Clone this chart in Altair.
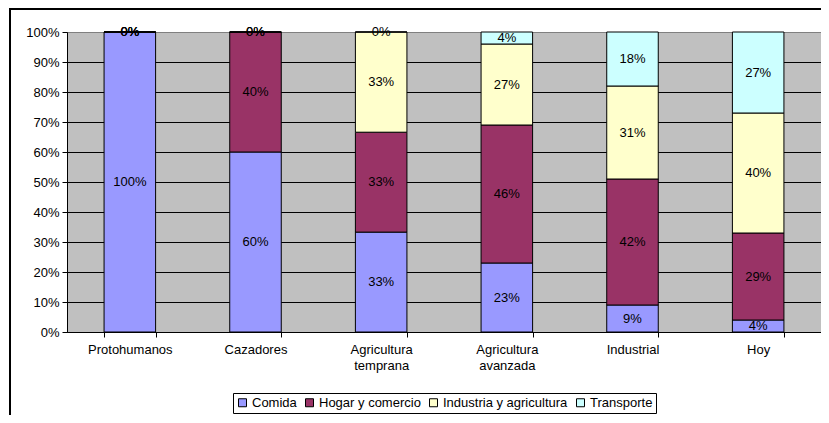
import altair as alt
import pandas as pd

categories = ["Protohumanos", "Cazadores", "Agricultura temprana",
              "Agricultura avanzada", "Industrial", "Hoy"]
series = ["Comida", "Hogar y comercio", "Industria y agricultura", "Transporte"]
comida = [100, 60, 33.3, 23, 9, 4]
hogar = [0, 40, 33.3, 46, 42, 29]
industria = [0, 0, 33.4, 27, 31, 40]
transporte = [0, 0, 0, 4, 18, 27]
colors = ["#9999FF", "#993366", "#FFFFCC", "#CCFFFF"]
y_ticks = [0, 10, 20, 30, 40, 50, 60, 70, 80, 90, 100]

rows = []
for si, (name, vals) in enumerate(zip(series, [comida, hogar, industria, transporte])):
    for c, v in zip(categories, vals):
        rows.append({"cat": c, "serie": name, "idx": si, "value": v})
df = pd.DataFrame(rows)

FONT = "Liberation Sans"

x_axis = alt.Axis(labelAngle=0, labelExpr="split(datum.label, ' ')",
                  tickBand="extent", tickSize=5, tickColor="black",
                  domainColor="black", labelFontSize=13, labelColor="black",
                  labelPadding=6, labelLineHeight=16, labelLimit=300,
                  grid=False, title=None)
x_scale = alt.Scale(paddingInner=0.59, paddingOuter=0.295)

y_axis = alt.Axis(values=y_ticks, tickCount=20, labelOverlap=False,
                  labelExpr="datum.value + '%'", title=None,
                  grid=True,
                  gridColor=alt.condition("datum.value >= 100", alt.value("#808080"), alt.value("black")),
                  gridWidth=1, gridOpacity=1,
                  tickSize=5, tickColor="black", domainColor="black",
                  labelFontSize=13, labelColor="black", labelPadding=3)
y_scale = alt.Scale(domain=[0, 100], nice=False, zero=True)

base = alt.Chart(df)

bars = base.mark_bar(stroke="black", strokeWidth=1).encode(
    x=alt.X("cat:N", sort=categories, scale=x_scale, axis=x_axis),
    y=alt.Y("value:Q", stack=True, scale=y_scale, axis=y_axis),
    color=alt.Color("serie:N", sort=series,
                    scale=alt.Scale(domain=series, range=colors),
                    legend=alt.Legend(title=None, orient="none", legendX=166, legendY=361,
                                      direction="horizontal", columns=4,
                                      strokeColor="black", padding=3,
                                      symbolType="square", symbolSize=64,
                                      symbolStrokeColor="black", symbolStrokeWidth=1,
                                      labelFontSize=13, labelColor="black",
                                      labelOffset=3, columnPadding=6)),
    order=alt.Order("idx:Q", sort="ascending"),
)

labels = base.transform_stack(
    stack="value", groupby=["cat"], as_=["y0", "y1"],
    sort=[alt.SortField("idx", order="ascending")]
).transform_calculate(
    mid="(datum.y0 + datum.y1) / 2",
    lab="format(datum.value, '.0f') + '%'"
).mark_text(fontSize=13, color="black", baseline="middle", align="center").encode(
    x=alt.X("cat:N", sort=categories, scale=x_scale, axis=None),
    y=alt.Y("mid:Q", scale=y_scale, axis=None),
    text="lab:N",
)

border = alt.Chart(pd.DataFrame({"a": [0]})).mark_rect(
    fill=None, stroke="black", strokeWidth=2
).encode(
    x=alt.value(-57), x2=alt.value(900), y=alt.value(-23), y2=alt.value(600)
)

chart = alt.layer(bars, labels, border).resolve_axis(
    x="independent", y="independent"
).properties(
    width=754, height=300,
    padding={"left": 59, "top": 24, "right": 0, "bottom": 83},
    autosize=alt.AutoSizeParams(type="none"),
).configure(font=FONT).configure_view(
    fill="#C0C0C0", stroke="#808080", strokeWidth=1
)

chart.save("out.html", embed_options={"renderer": "svg", "actions": False})
